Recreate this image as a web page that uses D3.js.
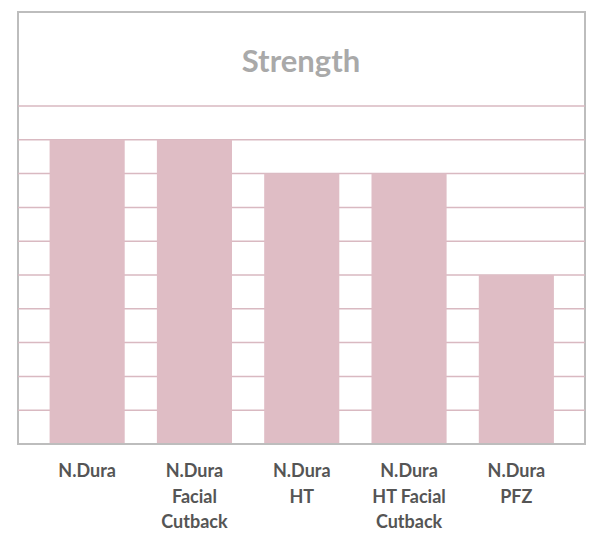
<!DOCTYPE html>
<html><head><meta charset="utf-8">
<script src="https://cdn.jsdelivr.net/npm/d3@7"></script>
<style>body{margin:0;background:#fff}</style>
</head><body>
<svg id="chart" width="600" height="554"></svg>
<script>
var categories = [["N.Dura"], ["N.Dura","Facial","Cutback"], ["N.Dura","HT"], ["N.Dura","HT Facial","Cutback"], ["N.Dura","PFZ"]];
var values = [9, 9, 8, 8, 5];
var ticks = [1,2,3,4,5,6,7,8,9,10];

var svg = d3.select("#chart");
var x = d3.scaleBand().domain(d3.range(values.length)).range([33.5, 570]).paddingInner(0.3).paddingOuter(0.15);
var y = d3.scaleLinear().domain([0, 10]).range([444, 106]);

svg.append("rect").attr("x", 18).attr("y", 12).attr("width", 567).attr("height", 432)
    .attr("fill", "none").attr("stroke", "#bdbdbd").attr("stroke-width", 2);

svg.selectAll("line.grid").data(ticks).enter().append("line")
    .attr("x1", 18).attr("x2", 585)
    .attr("y1", d => y(d)).attr("y2", d => y(d))
    .attr("stroke", "#d9b9c1").attr("stroke-width", 1.5);

svg.selectAll("rect.bar").data(values).enter().append("rect")
    .attr("x", (d, i) => x(i)).attr("width", x.bandwidth())
    .attr("y", d => y(d)).attr("height", d => y(0) - y(d))
    .attr("fill", "#dfbdc5");

svg.append("line").attr("x1", 18).attr("x2", 585).attr("y1", 444).attr("y2", 444)
    .attr("stroke", "#bdbdbd").attr("stroke-width", 2);

svg.append("text").attr("x", 301).attr("y", 72).attr("text-anchor", "middle")
    .attr("font-family", "Lato, sans-serif").attr("font-weight", "bold").attr("font-size", 31)
    .attr("fill", "#a9a9a9").text("Strength");

categories.forEach(function(lines, i){
    var t = svg.append("text").attr("text-anchor", "middle")
        .attr("font-family", "Lato, sans-serif").attr("font-weight", "bold").attr("font-size", 18)
        .attr("fill", "#555");
    lines.forEach(function(l, j){
        t.append("tspan").attr("x", x(i) + x.bandwidth() / 2).attr("y", 477 + j * 25.5).text(l);
    });
});
</script>
</body></html>
